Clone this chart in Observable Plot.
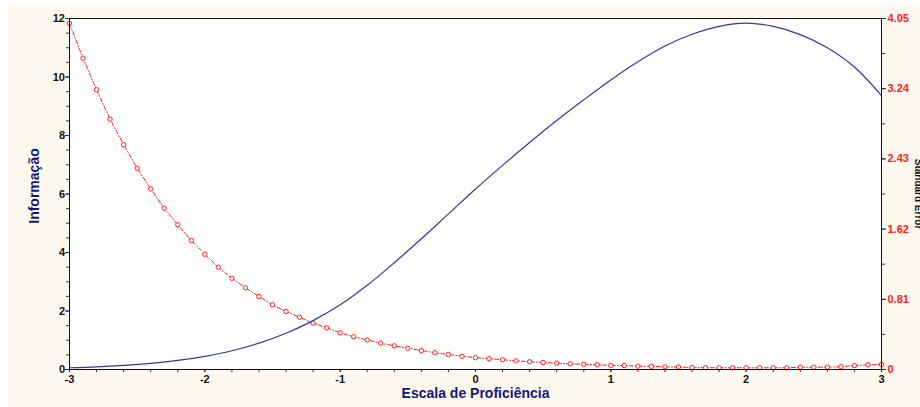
<!DOCTYPE html>
<html><head><meta charset="utf-8">
<script src="https://cdn.jsdelivr.net/npm/d3@7"></script>
<script src="https://cdn.jsdelivr.net/npm/@observablehq/plot@0.6"></script>
<style>
html,body{margin:0;padding:0;background:#fff;}
#wrap{position:relative;width:920px;height:407px;overflow:hidden;}
#bg{position:absolute;left:8px;top:5px;right:0;bottom:0;background:#fdf9ee;}
#chart{position:absolute;left:0;top:0;}
</style></head><body>
<div id="wrap"><div id="bg"></div><div id="chart"></div></div>
<script>
const thetaInfo = [-3.0,-2.8,-2.6,-2.4,-2.2,-2.0,-1.8,-1.6,-1.4,-1.2,-1.0,-0.8,-0.6,-0.4,-0.2,0.0,0.2,0.4,0.6,0.8,1.0,1.2,1.4,1.6,1.8,2.0,2.2,2.4,2.6,2.8,3.0];
const information = [0.06,0.09,0.14,0.21,0.31,0.45,0.64,0.90,1.24,1.67,2.21,2.88,3.65,4.47,5.32,6.17,6.98,7.76,8.51,9.22,9.90,10.52,11.06,11.46,11.73,11.84,11.73,11.45,11.00,10.34,9.36];

const thetaSE = [-3.0,-2.9,-2.8,-2.7,-2.6,-2.5,-2.4,-2.3,-2.2,-2.1,-2.0,-1.9,-1.8,-1.7,-1.6,-1.5,-1.4,-1.3,-1.2,-1.1,-1.0,-0.9,-0.8,-0.7,-0.6,-0.5,-0.4,-0.3,-0.2,-0.1,0.0,0.1,0.2,0.3,0.4,0.5,0.6,0.7,0.8,0.9,1.0,1.1,1.2,1.3,1.4,1.5,1.6,1.7,1.8,1.9,2.0,2.1,2.2,2.3,2.4,2.5,2.6,2.7,2.8,2.9,3.0];
const standardError = [3.996,3.592,3.227,2.888,2.593,2.323,2.083,1.861,1.670,1.488,1.330,1.180,1.053,0.943,0.842,0.746,0.669,0.603,0.536,0.481,0.423,0.378,0.341,0.304,0.273,0.246,0.219,0.193,0.173,0.153,0.136,0.125,0.113,0.100,0.090,0.081,0.073,0.066,0.060,0.054,0.047,0.045,0.039,0.037,0.030,0.029,0.022,0.021,0.020,0.020,0.020,0.020,0.020,0.020,0.026,0.026,0.027,0.032,0.046,0.054,0.058];

const xTicks = [-3,-2,-1,0,1,2,3];
const infoTicks = [0,2,4,6,8,10,12];
const seTickLabels = ["0","0.81","1.62","2.43","3.24","4.05"];
const infoMax = 12, seMax = 4.05;
const k = infoMax / seMax;

const infoData = thetaInfo.map((t,i)=>({theta:t, info:information[i]}));
const seData = thetaSE.map((t,i)=>({theta:t, se:standardError[i]}));

const font = "'Liberation Sans', Arial, sans-serif";
const navy = "#16167a";
const red = "#ff2020";

const plot = Plot.plot({
  width: 920, height: 407,
  marginLeft: 69, marginRight: 39, marginTop: 18, marginBottom: 38,
  style: {background: "transparent", fontFamily: font, fontSize: "11px", fontWeight: "bold", color: "#111"},
  x: {domain: [-3, 3]},
  y: {domain: [0, 12]},
  marks: [
    Plot.frame({fill: "white", stroke: null}),
    // minor ticks
    Plot.axisX({ticks: d3.range(-3, 3.001, 0.2), tickSize: 3, tickFormat: () => "", label: null, stroke: "#333"}),
    Plot.axisY({ticks: d3.range(0, 12.001, 0.5), tickSize: 3, tickFormat: () => "", label: null, stroke: "#333"}),
    Plot.axisY({anchor: "right", ticks: d3.range(0, 4.06, 0.405).map(v => v * k), tickSize: 3, tickFormat: () => "", label: null, stroke: "#333"}),
    // major ticks + labels
    Plot.axisX({ticks: xTicks, tickSize: 3, tickPadding: 3, tickFormat: d => String(d), label: null, color: "#111", stroke: "#333"}),
    Plot.axisY({ticks: infoTicks, tickSize: 4, tickPadding: 0.5, tickFormat: d => String(d), label: null, color: "#111", stroke: "#333"}),
    Plot.axisY({anchor: "right", ticks: seTickLabels.map(s => +s * k), tickSize: 4, tickPadding: 2,
      tickFormat: v => seTickLabels.find(s => Math.abs(+s * k - v) < 1e-6), label: null, color: red, stroke: "#333"}),
    // series
    Plot.line(seData, {x: "theta", y: d => d.se * k, stroke: red, strokeWidth: 1, strokeDasharray: "4,2,1,2"}),
    Plot.dot(seData, {x: "theta", y: d => d.se * k, r: 2.2, stroke: red, fill: "white", strokeWidth: 1}),
    Plot.line(infoData, {x: "theta", y: "info", stroke: "#3636a0", strokeWidth: 1.2, curve: "catmull-rom"}),
    Plot.frame({stroke: "#111"}),
    // titles
    Plot.text(["Informação"], {text: d => d, frameAnchor: "left", textAnchor: "middle", dx: -35, dy: -8, rotate: -90, fill: navy, fontSize: 14, fontWeight: "bold"}),
    Plot.text(["Escala de Proficiência"], {text: d => d, frameAnchor: "bottom", textAnchor: "middle", dy: 28.5, fill: navy, fontSize: 14, fontWeight: "bold"}),
    Plot.text(["Standard Error"], {text: d => d, frameAnchor: "right", textAnchor: "middle", dx: 33, rotate: 90, lineAnchor: "bottom", fill: "#111", fontSize: 10, fontWeight: "bold"})
  ]
});
document.getElementById("chart").appendChild(plot);
</script>
</body></html>
